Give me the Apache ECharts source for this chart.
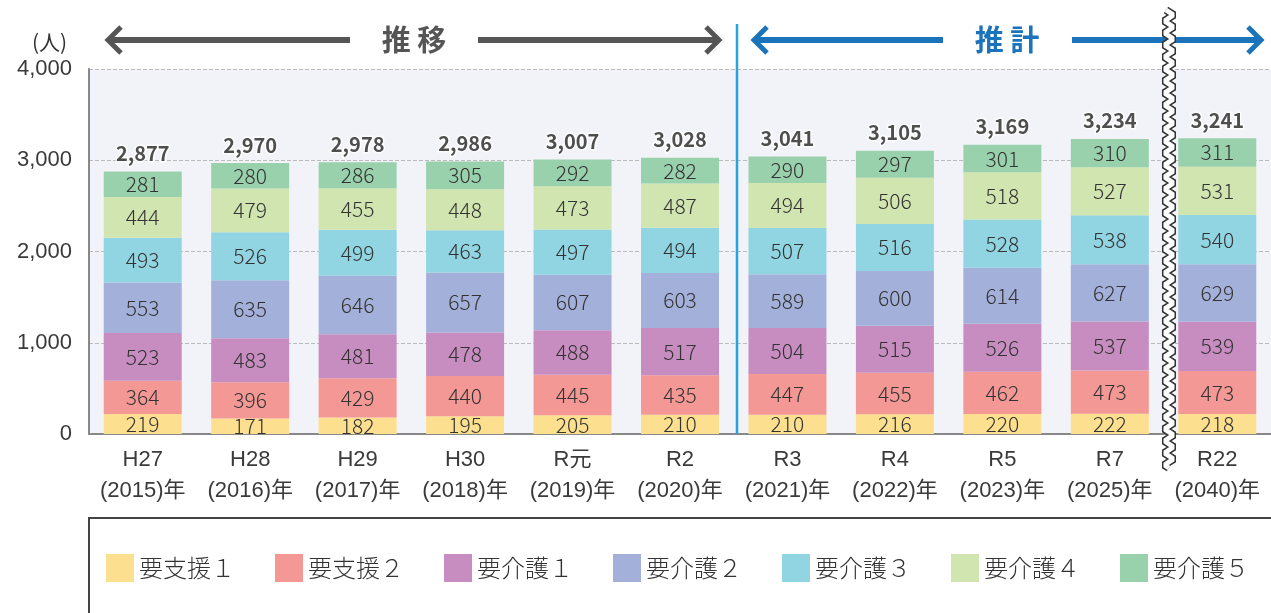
<!DOCTYPE html>
<html>
<head>
<meta charset="utf-8">
<script src="https://cdn.jsdelivr.net/npm/echarts@6/dist/echarts.min.js"></script>
<style>
html, body { margin: 0; padding: 0; background: #fff; }
#main { width: 1271px; height: 613px; }
</style>
</head>
<body>
<div id="main"></div>
<script>
// カテゴリ（年度）
var years = ['H27\n(2015)年', 'H28\n(2016)年', 'H29\n(2017)年', 'H30\n(2018)年', 'R元\n(2019)年',
    'R2\n(2020)年', 'R3\n(2021)年', 'R4\n(2022)年', 'R5\n(2023)年', 'R7\n(2025)年', 'R22\n(2040)年'];

// 要介護度別の人数
var shien1 = [219, 171, 182, 195, 205, 210, 210, 216, 220, 222, 218];
var shien2 = [364, 396, 429, 440, 445, 435, 447, 455, 462, 473, 473];
var kaigo1 = [523, 483, 481, 478, 488, 517, 504, 515, 526, 537, 539];
var kaigo2 = [553, 635, 646, 657, 607, 603, 589, 600, 614, 627, 629];
var kaigo3 = [493, 526, 499, 463, 497, 494, 507, 516, 528, 538, 540];
var kaigo4 = [444, 479, 455, 448, 473, 487, 494, 506, 518, 527, 531];
var kaigo5 = [281, 280, 286, 305, 292, 282, 290, 297, 301, 310, 311];
var totals = [2877, 2970, 2978, 2986, 3007, 3028, 3041, 3105, 3169, 3234, 3241];

var yTicks = [0, 1000, 2000, 3000, 4000];

var names = ['要支援１', '要支援２', '要介護１', '要介護２', '要介護３', '要介護４', '要介護５'];
var colors = ['#fde08f', '#f49895', '#c78dc0', '#a3b0d9', '#92d5e2', '#d1e5b0', '#99d1ad'];
var values = [shien1, shien2, kaigo1, kaigo2, kaigo3, kaigo4, kaigo5];

var FONT = '"Noto Sans CJK JP", "Noto Sans", sans-serif';
var LATIN = '"Liberation Sans", "Noto Sans CJK JP", sans-serif';

var chart = echarts.init(document.getElementById('main'));

var series = [];
for (var i = 0; i < names.length; i++) {
    series.push({
        name: names[i],
        type: 'bar',
        stack: 'total',
        barWidth: 78,
        itemStyle: { color: colors[i] },
        label: {
            show: true,
            position: 'inside',
            color: '#333',
            fontSize: 21,
            fontWeight: 300,
            fontFamily: FONT
        },
        data: values[i]
    });
}
// 合計ラベル
series.push({
    type: 'scatter',
    symbolSize: 0,
    silent: true,
    label: {
        show: true,
        position: 'top',
        distance: 8,
        color: '#222',
        fontSize: 20,
        fontWeight: 'bold',
        fontFamily: FONT,
        textBorderColor: '#fff',
        textBorderWidth: 3,
        formatter: function (p) { return p.value.toLocaleString('en-US'); }
    },
    data: totals
});

// 波線（省略記号）
var wave = [];
for (var y = 10; y <= 468; y += 2) {
    wave.push([1169 + 3.5 * Math.sin(y / 12 * 2 * Math.PI), y]);
}

var gray = '#555';
var blue = '#1a73bb';

var option = {
    backgroundColor: '#fff',
    animation: false,
    grid: {
        left: 89, top: 69, width: 1188, height: 365,
        show: true, backgroundColor: '#f2f3f8', borderWidth: 0
    },
    legend: {
        left: 101, top: 549,
        icon: 'rect',
        itemWidth: 28, itemHeight: 28,
        itemGap: 40,
        data: names,
        textStyle: { fontSize: 24, fontWeight: 300, color: '#333', fontFamily: FONT }
    },
    xAxis: {
        type: 'category',
        data: years,
        axisTick: { show: false },
        axisLine: { lineStyle: { color: '#888', width: 2 } },
        axisLabel: {
            interval: 0, margin: 10,
            fontSize: 22, lineHeight: 31, color: '#3a3a3a', fontFamily: LATIN
        }
    },
    yAxis: {
        type: 'value',
        min: yTicks[0], max: yTicks[yTicks.length - 1], interval: 1000,
        axisLine: { show: true, lineStyle: { color: '#888', width: 2 } },
        axisTick: { show: false },
        splitLine: { lineStyle: { color: '#bbb', type: 'dashed' } },
        axisLabel: {
            margin: 17, fontSize: 22, color: '#3a3a3a', fontFamily: LATIN,
            formatter: function (v) { return v.toLocaleString('en-US'); }
        }
    },
    graphic: [
        { type: 'text', left: 32, top: 32, style: { text: '(人)', fontSize: 21, fill: '#333', fontFamily: FONT } },
        // 推移
        { type: 'line', shape: { x1: 109, y1: 40, x2: 350, y2: 40 }, style: { stroke: gray, lineWidth: 6 } },
        { type: 'polyline', shape: { points: [[121, 27], [108, 40], [121, 53]] }, style: { stroke: gray, lineWidth: 5, fill: null } },
        { type: 'line', shape: { x1: 478, y1: 40, x2: 718, y2: 40 }, style: { stroke: gray, lineWidth: 6 } },
        { type: 'polyline', shape: { points: [[706, 27], [719, 40], [706, 53]] }, style: { stroke: gray, lineWidth: 5, fill: null } },
        { type: 'text', x: 414, y: 40, style: { text: '推 移', fontSize: 29, fontWeight: 'bold', fill: gray, fontFamily: FONT, align: 'center', verticalAlign: 'middle' } },
        // 推計
        { type: 'line', shape: { x1: 755, y1: 40, x2: 943, y2: 40 }, style: { stroke: blue, lineWidth: 6 } },
        { type: 'polyline', shape: { points: [[767, 27], [754, 40], [767, 53]] }, style: { stroke: blue, lineWidth: 5, fill: null } },
        { type: 'line', shape: { x1: 1072, y1: 40, x2: 1260, y2: 40 }, style: { stroke: blue, lineWidth: 6 } },
        { type: 'polyline', shape: { points: [[1248, 27], [1261, 40], [1248, 53]] }, style: { stroke: blue, lineWidth: 5, fill: null } },
        { type: 'text', x: 1007, y: 40, style: { text: '推 計', fontSize: 29, fontWeight: 'bold', fill: blue, fontFamily: FONT, align: 'center', verticalAlign: 'middle' } },
        // 区切り線
        { type: 'line', z: 10, shape: { x1: 737, y1: 24, x2: 737, y2: 434 }, style: { stroke: '#29a3dc', lineWidth: 2.5 } },
        // 波線
        { type: 'polyline', z: 20, shape: { points: wave }, style: { stroke: '#333', lineWidth: 8, fill: null } },
        { type: 'polyline', z: 21, shape: { points: wave }, style: { stroke: '#fff', lineWidth: 5, fill: null } },
        // 凡例枠
        { type: 'rect', shape: { x: 89, y: 518, width: 1200, height: 120 }, style: { stroke: '#444', lineWidth: 2, fill: null } }
    ],
    series: series
};

chart.setOption(option);
</script>
</body>
</html>
